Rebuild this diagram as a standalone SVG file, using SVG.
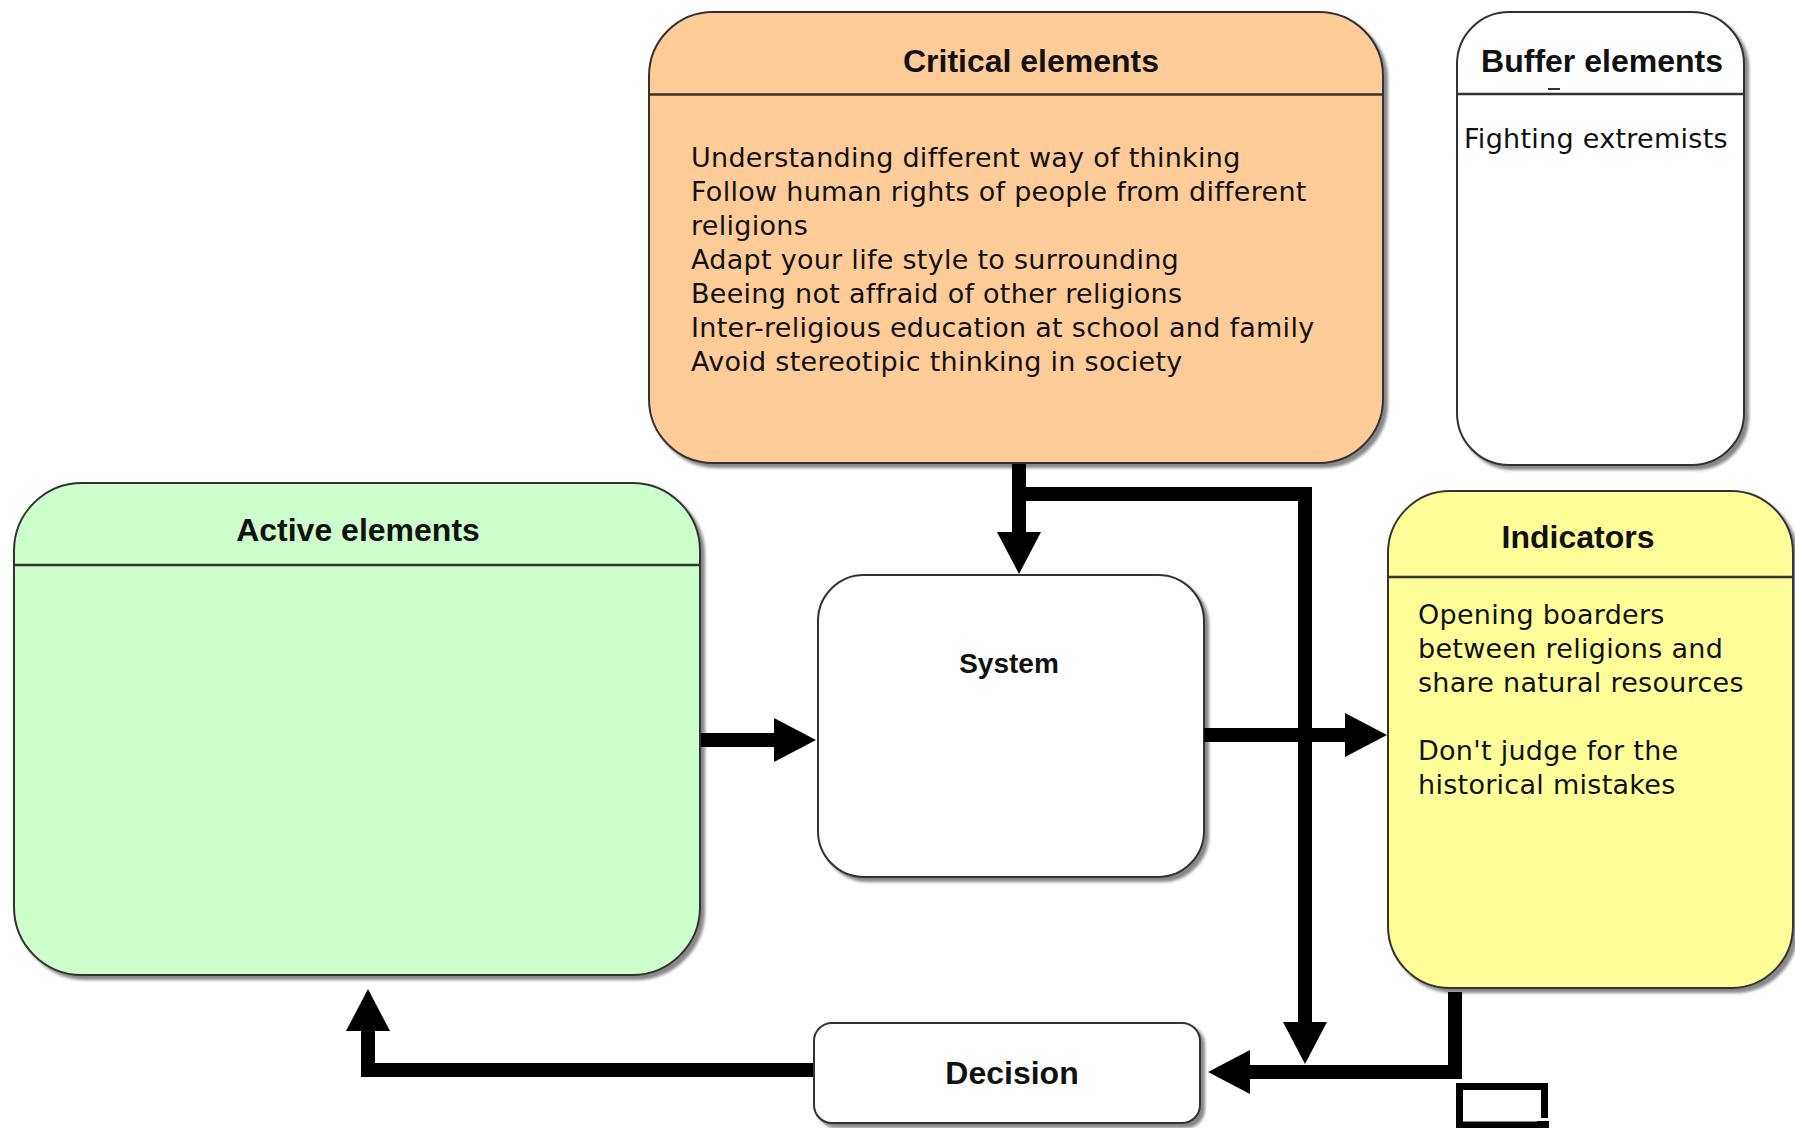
<svg xmlns="http://www.w3.org/2000/svg" width="1795" height="1128" viewBox="0 0 1795 1128">
<defs>
<filter id="sh" x="-5%" y="-5%" width="115%" height="115%">
<feDropShadow dx="4" dy="4" stdDeviation="1.5" flood-color="#555" flood-opacity="0.7"/>
</filter>
<marker id="ah" markerUnits="userSpaceOnUse" markerWidth="42" markerHeight="44" refX="0" refY="22" orient="auto" overflow="visible">
<path d="M0,0 L42,22 L0,44 Z" fill="#000"/>
</marker>
<style>
.box{stroke:#333;stroke-width:2;filter:url(#sh)}
.hdr{stroke:#333;stroke-width:2.5}
.ttl{font-family:"Liberation Sans",Arial,sans-serif;font-weight:bold;font-size:32px;fill:#111;text-anchor:middle}
.body{font-family:"DejaVu Sans",Verdana,sans-serif;font-size:27px;letter-spacing:0.28px;fill:#111}
.con{fill:none;stroke:#000;stroke-width:14;stroke-linejoin:miter;stroke-linecap:butt}
</style>
</defs>
<rect width="1795" height="1128" fill="#fff"/>

<g id="critical">
<rect class="box" x="649" y="12" width="734" height="451" rx="64" fill="#FFCC99"/>
<line class="hdr" x1="649" y1="94.5" x2="1383" y2="94.5"/>
<text class="ttl" x="1031" y="72">Critical elements</text>
<text class="body" x="691" y="167">Understanding different way of thinking</text>
<text class="body" x="691" y="201">Follow human rights of people from different</text>
<text class="body" x="691" y="235">religions</text>
<text class="body" x="691" y="269">Adapt your life style to surrounding</text>
<text class="body" x="691" y="303">Beeing not affraid of other religions</text>
<text class="body" x="691" y="337">Inter-religious education at school and family</text>
<text class="body" x="691" y="371">Avoid stereotipic thinking in society</text>
</g>

<g id="buffer">
<rect class="box" x="1457" y="12" width="287" height="453" rx="52" fill="#fff"/>
<line class="hdr" x1="1457" y1="94" x2="1744" y2="94"/>
<line x1="1548" y1="89" x2="1560" y2="89" stroke="#333" stroke-width="2"/>
<text class="ttl" x="1602" y="72">Buffer elements</text>
<text class="body" x="1464" y="148">Fighting extremists</text>
</g>

<g id="active">
<rect class="box" x="14" y="483" width="686" height="492" rx="68" fill="#CCFFCC"/>
<line class="hdr" x1="14" y1="565" x2="700" y2="565"/>
<text class="ttl" x="358" y="541">Active elements</text>
</g>

<g id="system">
<rect class="box" x="818" y="575" width="386" height="302" rx="46" fill="#fff"/>
<text class="ttl" x="1009" y="673" style="font-size:28px">System</text>
</g>

<g id="indicators">
<rect class="box" x="1388" y="491" width="405" height="497" rx="62" fill="#FFFF99"/>
<line class="hdr" x1="1388" y1="577" x2="1793" y2="577"/>
<text class="ttl" x="1578" y="548">Indicators</text>
<text class="body" x="1418" y="624">Opening boarders</text>
<text class="body" x="1418" y="658">between religions and</text>
<text class="body" x="1418" y="692">share natural resources</text>
<text class="body" x="1418" y="760">Don't judge for the</text>
<text class="body" x="1418" y="794">historical mistakes</text>
</g>

<g id="decision">
<rect class="box" x="814" y="1023" width="386" height="100" rx="18" fill="#fff"/>
<text class="ttl" x="1012" y="1084">Decision</text>
</g>

<g id="connectors">
<path class="con" d="M1019,464 V532" marker-end="url(#ah)"/>
<path class="con" d="M1012,494 H1305 V1022" marker-end="url(#ah)"/>
<path class="con" d="M701,740 H774" marker-end="url(#ah)"/>
<path class="con" d="M1204,735 H1345" marker-end="url(#ah)"/>
<path class="con" d="M1455,992 V1072 H1250" marker-end="url(#ah)"/>
<path class="con" d="M813,1070 H368 V1031" marker-end="url(#ah)"/>
</g>

<g id="fragment" fill="none" stroke="#000" stroke-width="7">
<path d="M1459.5,1128 V1086.5 H1544.5 V1118"/>
<line x1="1456" y1="1125" x2="1537" y2="1125"/>
<rect x="1537" y="1121" width="12" height="7" fill="#000" stroke="none"/>
</g>
</svg>
